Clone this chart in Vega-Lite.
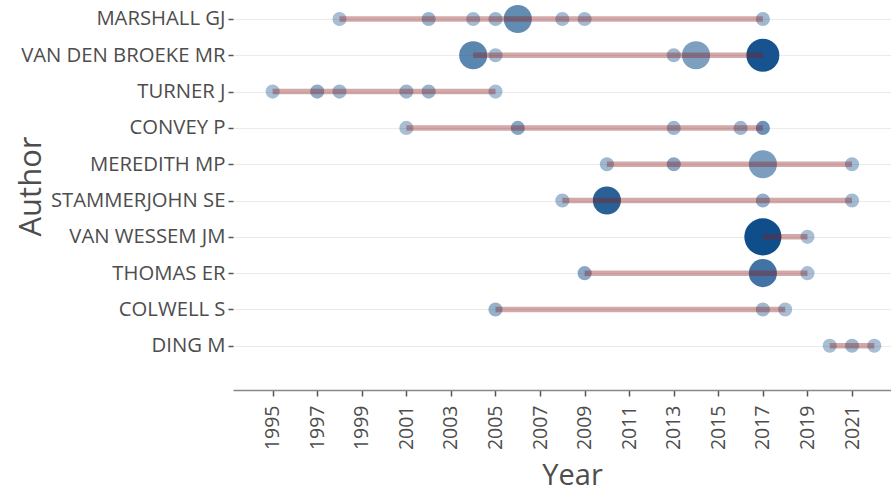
{
  "$schema": "https://vega.github.io/schema/vega-lite/v6.json",
  "autosize": "none",
  "width": 658,
  "height": 390,
  "padding": {"left": 233, "top": 0, "right": 0, "bottom": 103},
  "background": "white",
  "config": {
    "view": {"stroke": null},
    "font": "Open Sans",
    "axis": {"labelFont": "Open Sans", "titleFont": "Open Sans", "labelColor": "#4d4d4d", "titleColor": "#4d4d4d", "titleFontWeight": "normal"}
  },
  "data": {
    "values": [
      {"author": "MARSHALL GJ", "year": 1998, "articles": 1, "tcpy": 1},
      {"author": "MARSHALL GJ", "year": 2002, "articles": 1, "tcpy": 1.8},
      {"author": "MARSHALL GJ", "year": 2004, "articles": 1, "tcpy": 1.2},
      {"author": "MARSHALL GJ", "year": 2005, "articles": 1, "tcpy": 1.6},
      {"author": "MARSHALL GJ", "year": 2006, "articles": 3, "tcpy": 5},
      {"author": "MARSHALL GJ", "year": 2008, "articles": 1, "tcpy": 1.2},
      {"author": "MARSHALL GJ", "year": 2009, "articles": 1, "tcpy": 1.2},
      {"author": "MARSHALL GJ", "year": 2017, "articles": 1, "tcpy": 1.5},
      {"author": "VAN DEN BROEKE MR", "year": 2004, "articles": 3, "tcpy": 5.5},
      {"author": "VAN DEN BROEKE MR", "year": 2005, "articles": 1, "tcpy": 1.2},
      {"author": "VAN DEN BROEKE MR", "year": 2013, "articles": 1, "tcpy": 1.5},
      {"author": "VAN DEN BROEKE MR", "year": 2014, "articles": 3, "tcpy": 3.5},
      {"author": "VAN DEN BROEKE MR", "year": 2017, "articles": 4, "tcpy": 9.6},
      {"author": "TURNER J", "year": 1995, "articles": 1, "tcpy": 1},
      {"author": "TURNER J", "year": 1997, "articles": 1, "tcpy": 2.5},
      {"author": "TURNER J", "year": 1998, "articles": 1, "tcpy": 1.5},
      {"author": "TURNER J", "year": 2001, "articles": 1, "tcpy": 1.6},
      {"author": "TURNER J", "year": 2002, "articles": 1, "tcpy": 1.8},
      {"author": "TURNER J", "year": 2005, "articles": 1, "tcpy": 1},
      {"author": "CONVEY P", "year": 2001, "articles": 1, "tcpy": 1},
      {"author": "CONVEY P", "year": 2006, "articles": 1, "tcpy": 3},
      {"author": "CONVEY P", "year": 2013, "articles": 1, "tcpy": 1.6},
      {"author": "CONVEY P", "year": 2016, "articles": 1, "tcpy": 1.6},
      {"author": "CONVEY P", "year": 2017, "articles": 1, "tcpy": 4.5},
      {"author": "MEREDITH MP", "year": 2010, "articles": 1, "tcpy": 1.5},
      {"author": "MEREDITH MP", "year": 2013, "articles": 1, "tcpy": 2.8},
      {"author": "MEREDITH MP", "year": 2017, "articles": 3, "tcpy": 3.6},
      {"author": "MEREDITH MP", "year": 2021, "articles": 1, "tcpy": 1.2},
      {"author": "STAMMERJOHN SE", "year": 2008, "articles": 1, "tcpy": 1.2},
      {"author": "STAMMERJOHN SE", "year": 2010, "articles": 3, "tcpy": 8.5},
      {"author": "STAMMERJOHN SE", "year": 2017, "articles": 1, "tcpy": 2.2},
      {"author": "STAMMERJOHN SE", "year": 2021, "articles": 1, "tcpy": 1.2},
      {"author": "VAN WESSEM JM", "year": 2017, "articles": 5, "tcpy": 10},
      {"author": "VAN WESSEM JM", "year": 2019, "articles": 1, "tcpy": 1},
      {"author": "THOMAS ER", "year": 2009, "articles": 1, "tcpy": 2.8},
      {"author": "THOMAS ER", "year": 2017, "articles": 3, "tcpy": 7},
      {"author": "THOMAS ER", "year": 2019, "articles": 1, "tcpy": 1},
      {"author": "COLWELL S", "year": 2005, "articles": 1, "tcpy": 2},
      {"author": "COLWELL S", "year": 2017, "articles": 1, "tcpy": 1.5},
      {"author": "COLWELL S", "year": 2018, "articles": 1, "tcpy": 1},
      {"author": "DING M", "year": 2020, "articles": 1, "tcpy": 1},
      {"author": "DING M", "year": 2021, "articles": 1, "tcpy": 1.5},
      {"author": "DING M", "year": 2022, "articles": 1, "tcpy": 1}
    ]
  },
  "encoding": {
    "x": {
      "field": "year", "type": "quantitative",
      "scale": {"domain": [1993.22, 2022.75], "nice": false, "zero": false},
      "axis": {
        "title": "Year", "values": [1995,1997,1999,2001,2003,2005,2007,2009,2011,2013,2015,2017,2019,2021],
        "format": "d", "labelAngle": 270, "labelAlign": "right", "labelBaseline": "middle",
        "labelFontSize": 19.5, "labelPadding": 9, "tickSize": 6, "tickColor": "#555", "tickWidth": 1.5,
        "domainColor": "#888", "domainWidth": 1.5, "grid": false,
        "titleFontSize": 29, "titleX": 339, "titleY": 94, "titleAlign": "center", "titleBaseline": "alphabetic", "labelFlush": false, "labelOverlap": false
      }
    },
    "y": {
      "field": "author", "type": "nominal",
      "scale": {"type": "point", "domain": ["MARSHALL GJ","VAN DEN BROEKE MR","TURNER J","CONVEY P","MEREDITH MP","STAMMERJOHN SE","VAN WESSEM JM","THOMAS ER","COLWELL S","DING M"], "padding": 0.87, "align": 0.3},
      "axis": {
        "title": "Author", "labelFontSize": 20.3, "labelLimit": 400, "labelPadding": 3, "tickSize": 5, "tickColor": "#555", "tickWidth": 1.5,
        "domain": false, "grid": true, "gridColor": "#ebebeb", "gridWidth": 1.2,
        "titleFontSize": 31, "titleAngle": 270, "titleX": -193, "titleY": 186, "titleAlign": "center", "titleBaseline": "alphabetic"
      }
    }
  },
  "layer": [
    {
      "mark": {"type": "circle", "color": "#104E8B"},
      "encoding": {
        "size": {"field": "articles", "type": "quantitative", "scale": {"type": "linear", "domain": [1, 5], "range": [200, 1380]}, "legend": null},
        "opacity": {"field": "tcpy", "type": "quantitative", "scale": {"domain": [0, 10], "range": [0.3, 1]}, "legend": null}
      }
    },
    {
      "mark": {"type": "line", "color": "#8B1A1A", "opacity": 0.38, "strokeWidth": 5.5},
      "encoding": {"detail": {"field": "author", "type": "nominal"}}
    }
  ]
}
